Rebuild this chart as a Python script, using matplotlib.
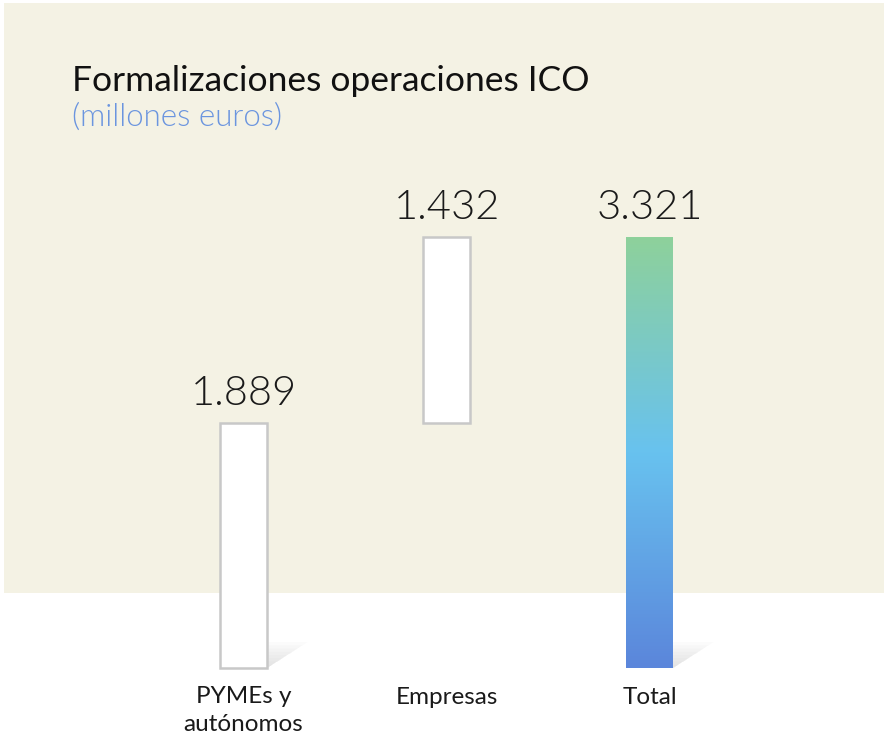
import numpy as np
import matplotlib

matplotlib.use("Agg")
import matplotlib.pyplot as plt
from matplotlib.patches import Rectangle, Polygon
from matplotlib.colors import LinearSegmentedColormap

# data (millones euros)
categories = ["PYMEs y\nautónomos", "Empresas", "Total"]
values = [1889, 1432, 3321]
value_labels = ["1.889", "1.432", "3.321"]

W, H = 884, 739
BEIGE = "#F4F2E4"
FONT = ["Lato", "DejaVu Sans"]

fig = plt.figure(figsize=(W / 100, H / 100), dpi=100)
fig.patch.set_facecolor("white")

# beige panel behind title and upper part of the chart
fig.patches.append(Rectangle((4 / W, 1 - 593 / H), 1 - 4 / W, (593 - 3) / H,
                             transform=fig.transFigure, facecolor=BEIGE,
                             edgecolor="none", zorder=-5))

fig.text(72 / W, 1 - 91 / H, "Formalizaciones operaciones ICO", fontsize=25.5,
         family=FONT, color="#111111", va="baseline", ha="left")
fig.text(72 / W, 1 - 126 / H, "(millones euros)", fontsize=22.5, family=FONT,
         weight=300, color="#6B95DF", va="baseline", ha="left")

# axes: x centers 243.5/446.5/649.5 px, value 0 at 668 px, 3321 at 237 px
ax = fig.add_axes([142 / W, (H - 668) / H, 609 / W, 431 / H])
ax.set_zorder(2)
ax.set_xlim(-0.5, 2.5)
ax.set_ylim(0, values[2])
ax.axis("off")
ax.patch.set_alpha(0)

bw = 47 / 203
bottoms = [0, values[0], 0]
cmap = LinearSegmentedColormap.from_list(
    "ico", ["#5B86DB", "#68C2EF", "#8ED19B"])

for i, (v, b) in enumerate(zip(values, bottoms)):
    x0 = i - bw / 2
    if i < 2:
        ax.add_patch(Rectangle((x0, b), bw, v, facecolor="white",
                               edgecolor="#C8C8C8", lw=1.8, zorder=3,
                               clip_on=False))
    else:
        grad = np.linspace(0, 1, 256).reshape(-1, 1)
        ax.imshow(grad, cmap=cmap, origin="lower", aspect="auto",
                  extent=(x0, x0 + bw, b, b + v), zorder=3)
    # soft shadow wedge at the bottom right of the bars that reach the base
    if b == 0:
        for k in range(8):
            f = 1 - k / 8
            ax.add_patch(Polygon([(x0 + bw, 0), (x0 + bw + 0.2 * f, 200 * f),
                                  (x0 + bw, 200 * f)],
                                 closed=True, facecolor="#9A9A9A", alpha=0.035,
                                 edgecolor="none", zorder=2, clip_on=False))
    ax.text(i, b + v + 140, value_labels[i], ha="center", va="baseline",
            fontsize=30, family=FONT, weight=300, color="#1A1A1A",
            clip_on=False)

for i, c in enumerate(categories):
    y = -(731 - 668) / 431 * values[2] if "\n" in c else -(704 - 668) / 431 * values[2]
    ax.text(i, y, c, ha="center", va="baseline", fontsize=17.5, family=FONT,
            color="#1A1A1A", linespacing=1.4, clip_on=False)

fig.savefig("out.png", dpi=100, facecolor="white")
